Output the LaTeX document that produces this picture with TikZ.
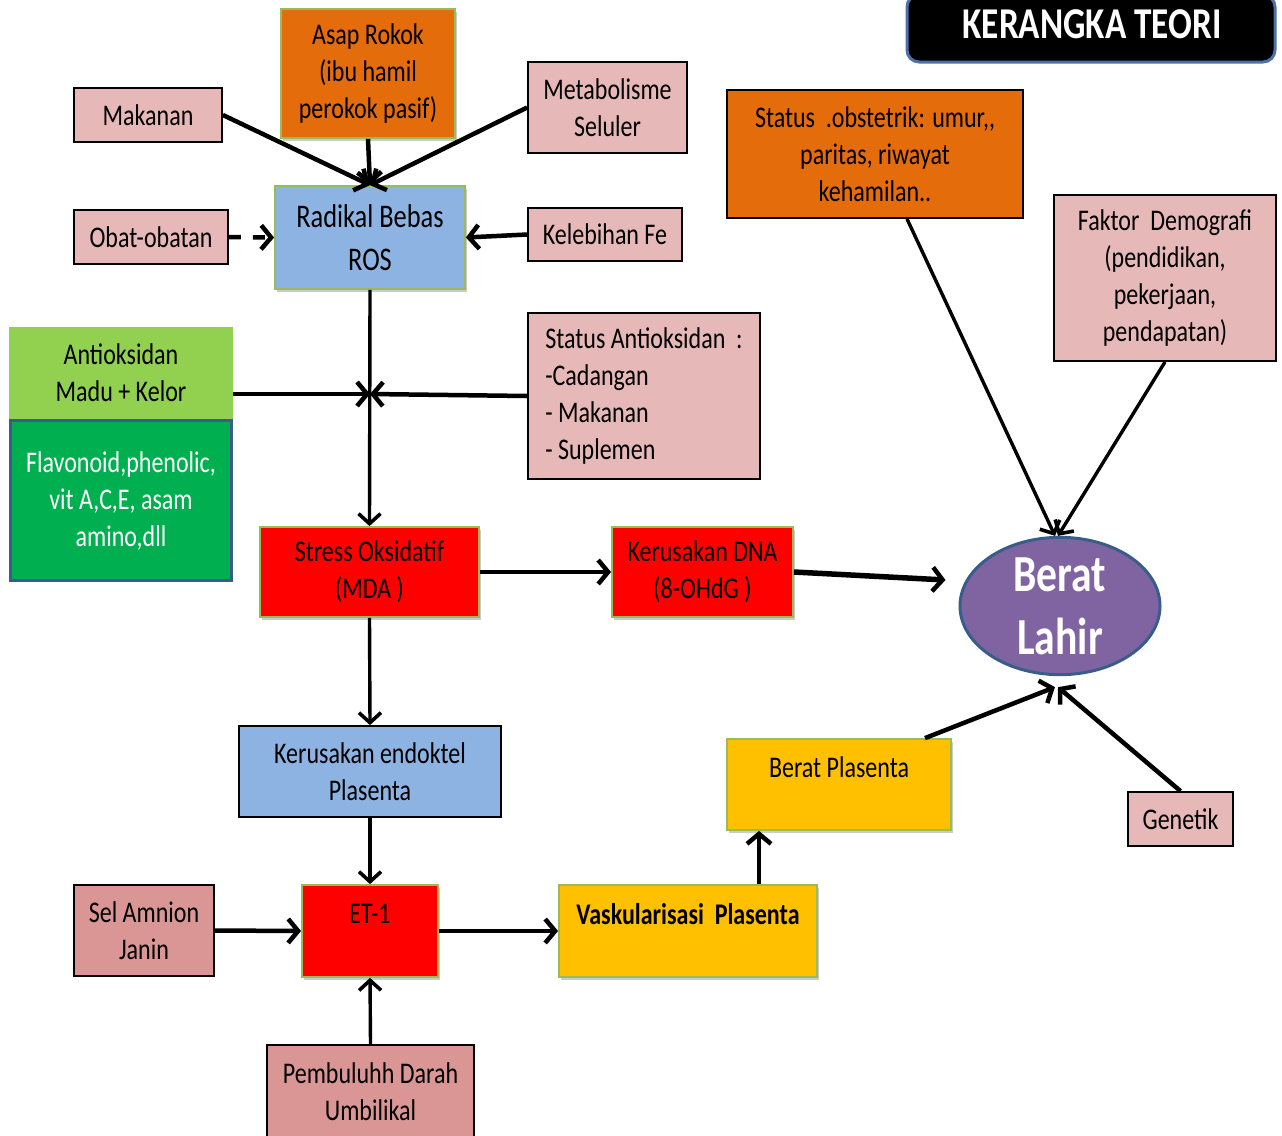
\documentclass[tikz,border=0pt]{standalone}
\usepackage{fontspec}
\setmainfont{Carlito}[FakeStretch=0.8]
\usetikzlibrary{arrows.meta,shapes.geometric,shadows}

\definecolor{pinkfill}{HTML}{E6B9B8}
\definecolor{rosefill}{HTML}{D99694}
\definecolor{orangefill}{HTML}{E46C0A}
\definecolor{bluefill}{HTML}{8DB3E2}
\definecolor{limefill}{HTML}{92D050}
\definecolor{greenfill}{HTML}{00B050}
\definecolor{redfill}{HTML}{FF0000}
\definecolor{yellowfill}{HTML}{FFC000}
\definecolor{purplefill}{HTML}{8064A2}
\definecolor{olivedraw}{HTML}{9BBB59}
\definecolor{navydraw}{HTML}{385D8A}
\definecolor{titledraw}{HTML}{4F6FA8}

\newcommand\txt{\fontsize{30}{37}\selectfont}
\newcommand\bigtxt{\fontsize{33}{43}\selectfont}

\tikzset{
  box/.style={draw=black, line width=1.8pt, align=center, inner sep=0pt, font=\txt, text=black},
  gbox/.style={box, draw=olivedraw, drop shadow={shadow xshift=1.5pt, shadow yshift=-3pt, fill=black!45, opacity=0.45}},
  arr/.style={line width=4.5pt, -{Straight Barb[length=10pt, width=24pt, line width=4.5pt]}},
  thinarr/.style={line width=3.4pt, -{Straight Barb[length=10pt, width=22pt, line width=3.6pt]}},
}

\begin{document}
\begin{tikzpicture}[x=1pt, y=-1pt]
\useasboundingbox (0,0) rectangle (1282,1135);

% title banner
\node[draw=titledraw, line width=3pt, fill=black, rounded corners=12pt,
      minimum width=368pt, minimum height=67pt, inner sep=0pt] (title) at (1091,28.5) {};
\node[text=white, font=\fontsize{44}{50}\selectfont\bfseries, inner sep=0pt] (titletext) at (1092,24) {KERANGKA TEORI};

% sources of free radicals
\node[gbox, fill=orangefill, minimum width=174pt, minimum height=129pt] (asap) at (368,73.5)
  {Asap Rokok\\(ibu hamil\\perokok pasif)};
\node[box, fill=pinkfill, minimum width=148pt, minimum height=54pt] (makanan) at (148,115) {Makanan};
\node[box, fill=pinkfill, minimum width=159pt, minimum height=91pt] (metab) at (607.5,107.5) {Metabolisme\\Seluler};
\node[gbox, fill=bluefill, minimum width=190pt, minimum height=103pt, font=\bigtxt] (ros) at (370,237.5)
  {Radikal Bebas\\ROS};
\node[box, fill=pinkfill, minimum width=154pt, minimum height=54pt] (obat) at (151,237) {Obat-obatan};
\node[box, fill=pinkfill, minimum width=154pt, minimum height=53pt] (fe) at (605,234.5) {Kelebihan Fe};

% antioxidants
\node[box, draw=limefill, fill=limefill, minimum width=222pt, minimum height=90pt] (antiok) at (121,373)
  {Antioksidan\\Madu + Kelor};
\node[box, draw=navydraw, line width=2.4pt, fill=greenfill, text=white, minimum width=221pt, minimum height=160pt] (flav) at (121,500.5)
  {Flavonoid,phenolic,\\vit A,C,E, asam\\amino,dll};
\node[box, fill=pinkfill, minimum width=232pt, minimum height=166pt, align=left] (statanti) at (644,396)
  {Status Antioksidan\ \ :\\-Cadangan\\- Makanan\\- Suplemen};

% oxidative stress chain
\node[gbox, fill=redfill, minimum width=219pt, minimum height=90pt] (stress) at (369.5,572) {Stress Oksidatif\\(MDA )};
\node[gbox, fill=redfill, minimum width=181pt, minimum height=90pt] (dna) at (702.5,572) {Kerusakan DNA\\(8-OHdG )};
\node[box, fill=bluefill, minimum width=262pt, minimum height=91pt] (endo) at (370,771.5) {Kerusakan endoktel\\Plasenta};

% outcome
\node[ellipse, draw=navydraw, line width=3pt, fill=purplefill, text=white, inner sep=0pt,
      minimum width=200pt, minimum height=134pt, align=center,
      font=\fontsize{52}{63}\selectfont\bfseries] (lahir) at (1060,606) {Berat\\Lahir};

% other determinants
\node[box, fill=orangefill, minimum width=296pt, minimum height=128pt] (obst) at (875,154)
  {Status\ \ .obstetrik: umur,{},\\paritas, riwayat\\kehamilan..};
\node[box, fill=pinkfill, minimum width=222pt, minimum height=166pt] (demog) at (1165,278)
  {Faktor\ \ Demografi\\(pendidikan,\\pekerjaan,\\pendapatan)};
\node[gbox, fill=yellowfill, minimum width=224pt, minimum height=91pt,
      label={[anchor=center, yshift=-29pt, font=\txt, inner sep=0pt]north:Berat Plasenta}] (bplas) at (839,784.5) {};
\node[box, fill=pinkfill, minimum width=105pt, minimum height=54pt] (genetik) at (1180.5,819) {Genetik};

% placental vessels
\node[box, fill=rosefill, minimum width=140pt, minimum height=91pt] (amnion) at (144,930.5) {Sel Amnion\\Janin};
\node[gbox, fill=redfill, minimum width=136pt, minimum height=92pt,
      label={[anchor=center, yshift=-30pt, font=\txt, inner sep=0pt]north:ET-1}] (et1) at (370,931) {};
\node[gbox, fill=yellowfill, minimum width=258pt, minimum height=92pt,
      label={[anchor=center, yshift=-30pt, font=\txt\bfseries, inner sep=0pt]north:Vaskularisasi\ \ Plasenta}] (vask) at (688,931) {};
\node[box, fill=rosefill, minimum width=207pt, minimum height=94pt] (pemb) at (370.5,1092) {Pembuluhh Darah\\Umbilikal};

% junction where the antioxidants act
\coordinate (jn) at (370,394);

% connectors
\draw[arr] (makanan.east) -- (ros.north);
\draw[arr] (asap.south) -- (ros.north);
\draw[arr] (metab.west) -- (ros.north);
\draw[arr, dash pattern=on 12pt off 12pt] (obat.east) -- (ros.west);
\draw[arr] (fe.west) -- (ros.east);
\draw[thinarr] (ros.south) -- (stress.north);
\draw[arr] (antiok.east |- jn) -- (jn);
\draw[arr] (statanti.west) -- (jn);
\draw[arr] (stress.east) -- (dna.west);
\draw[arr, line width=5.5pt] (dna.east) -- ([xshift=-13pt, yshift=26pt]lahir.west);
\draw[thinarr] (stress.south) -- (endo.north);
\draw[thinarr] (endo.south) -- (et1.north);
\draw[arr] (amnion.east) -- (et1.west);
\draw[arr] (et1.east) -- (vask.west);
\draw[thinarr] (pemb.north) -- (et1.south);
\draw[arr] ([xshift=71pt]vask.north) -- ([xshift=-80pt]bplas.south);
\draw[arr] ([xshift=86pt]bplas.north) -- ([xshift=-5pt, yshift=-11pt]lahir.south);
\draw[arr] (genetik.north) -- ([xshift=-2pt, yshift=-11pt]lahir.south);
\draw[thinarr] ([xshift=32pt]obst.south) -- ([xshift=-5pt]lahir.north);
\draw[thinarr] (demog.south) -- ([xshift=-2pt]lahir.north);
\end{tikzpicture}
\end{document}
